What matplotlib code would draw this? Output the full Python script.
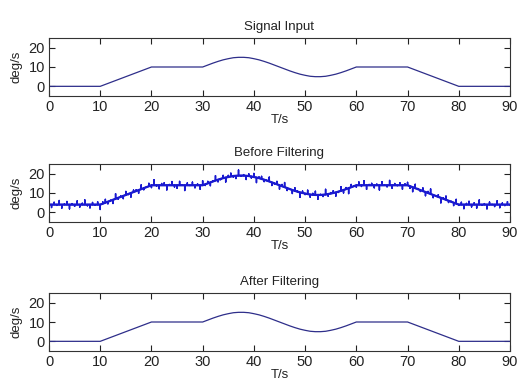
import numpy as np
import matplotlib
matplotlib.use("Agg")
import matplotlib.pyplot as plt

plt.rcParams['font.family'] = ['Liberation Sans', 'DejaVu Sans']

# ---- data ----
t_sig = [0, 10, 20, 30, 31, 32, 33, 34, 35, 36, 37, 38, 39, 40, 41, 42, 43, 44, 45,
         46, 47, 48, 49, 50, 51, 52, 53, 54, 55, 56, 57, 58, 59, 60, 70, 80, 90]
v_sig = [0, 0, 10, 10, 11.0, 12.0, 12.9, 13.7, 14.3, 14.8, 15.0, 15.0, 14.8, 14.3, 13.7,
         12.9, 12.0, 11.0, 10.0, 9.0, 8.0, 7.1, 6.3, 5.7, 5.2, 5.0, 5.0, 5.2, 5.7, 6.3,
         7.1, 8.0, 9.0, 10, 10, 0, 0]
noise_offset = 4.0
noise = [0.8, -1.5, 1.2, -0.4, 2.1, -1.8, 0.3, 1.6, -2.2, 0.5, -0.9, 1.9, -1.3, 0.7, 2.4, -0.6, -1.7, 1.1, -0.2, 1.4,
         -2.5, 0.9, 1.7, -1.1, 0.2, -1.9, 2.6, -0.7, 0.4, -1.4, 1.8, -0.3, -2.1, 1.0, 0.6, -1.6, 2.2, -0.8, 0.1, 1.5,
         -1.2, 2.8, -0.5, -1.8, 0.9, 1.3, -2.4, 0.4, 1.9, -0.9, -1.5, 2.0, 0.3, -2.7, 1.2, -0.1, 1.6, -1.3, 0.7, -2.0,
         2.3, -0.6, 1.0, -1.7, 0.2, 2.5, -1.1, -0.4, 1.4, -2.3, 0.8, 1.7, -0.7, -1.4, 2.9, -0.2, 0.5, -1.9, 1.1, -0.8,
         1.8, -2.6, 0.6, 1.3, -1.0, 0.1, 2.2, -1.6, -0.3, 1.5, -2.0, 0.9, 2.4, -1.2, 0.0, -1.8, 1.6, 0.4, -2.5, 1.0,
         -0.5, 2.0, -1.4, 0.7, 1.9, -2.2, 0.3, -0.9, 2.7, -1.1, 0.5, 1.2, -1.9, -0.4, 2.1, -1.5, 0.8, -2.8, 1.4, 0.2,
         -1.0, 1.7, -0.6, 2.3, -2.1, 0.4, 1.0, -1.3, 0.6, -2.4, 1.8, 0.1, -0.8, 2.5, -1.6, 0.9, -0.2, 1.3, -2.0, 0.7,
         1.5, -1.1, -2.3, 2.0, 0.3, -0.7, 1.6, -1.9, 0.8, 2.6, -1.4, -0.1, 1.1, -2.6, 0.5, 1.9, -0.9, 0.2, -1.5, 2.2,
         -0.4, 1.2, -2.1, 0.6, 1.7, -1.2, 0.9, -1.8, 2.4, -0.3, 0.5, -2.2, 1.3, 0.1, -1.0, 2.0, -1.6, 0.8, -0.5, 1.5, -0.2]
noise_step = 0.5
titles = ["Signal Input", "Before Filtering", "After Filtering"]
xticks = [0, 10, 20, 30, 40, 50, 60, 70, 80, 90]
yticks = [0, 10, 20]

# ---- figure ----
fig = plt.figure(figsize=(5.2, 3.83), dpi=100, facecolor='white')
W, H = 520, 383
boxes = [(38, 96), (164, 222), (293, 351)]
axes = []
for (top, bot) in boxes:
    ax = fig.add_axes([49 / W, 1 - bot / H, 461 / W, (bot - top) / H])
    axes.append(ax)

t_noisy = np.arange(len(noise)) * noise_step
base = np.interp(t_noisy, t_sig, v_sig) + noise_offset
n = np.array(noise)
# each sample is drawn as a vertical spike off the baseline
tt = np.repeat(t_noisy, 3)
vv = np.column_stack([base, base + n, base]).ravel()

line_col = '#2e2e8a'
axes[0].plot(t_sig, v_sig, color=line_col, lw=0.9)
axes[1].plot(tt, vv, color='#1a1ad0', lw=1.1)
axes[1].plot(t_noisy, base, color='#1a1ad0', lw=1.6)
axes[2].plot(t_sig, v_sig, color=line_col, lw=0.9)

for ax, title in zip(axes, titles):
    ax.set_xlim(0, 90)
    ax.set_ylim(-5, 25)
    ax.set_xticks(xticks)
    ax.set_yticks(yticks)
    ax.tick_params(direction='in', length=4, width=0.8, top=True, right=True,
                   labelsize=10.5, pad=3, colors='#222222')
    for s in ax.spines.values():
        s.set_color('#333333')
        s.set_linewidth(0.8)
    ax.set_title(title, fontsize=9.5, pad=6, color='#222222')
    ax.set_xlabel('T/s', fontsize=9.5, labelpad=0, color='#222222')
    ax.set_ylabel('deg/s', fontsize=9.5, labelpad=4, color='#222222')

fig.savefig('out.png', dpi=100, facecolor='white')
